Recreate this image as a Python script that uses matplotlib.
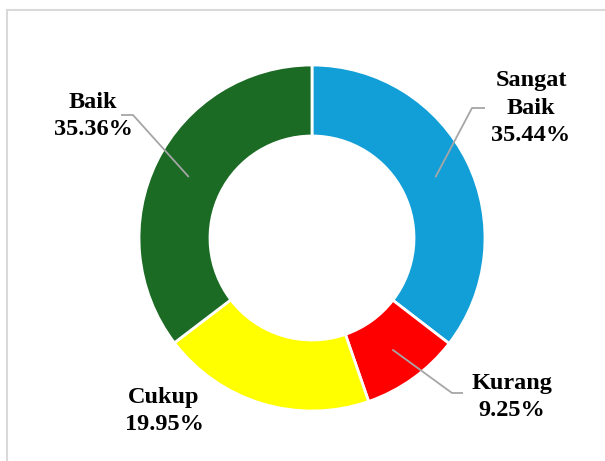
import numpy as np
import matplotlib
matplotlib.use('Agg')
import matplotlib.pyplot as plt

# ── data ─────────────────────────────────────────────
categories = ['Sangat\nBaik', 'Kurang', 'Cukup', 'Baik']
values     = [35.44, 9.25, 19.95, 35.36]
colors     = ['#129FD7', '#FF0000', '#FFFF00', '#1B6B25']

W, H = 605, 461
CX, CY = 312, H - 238          # donut centre (pixel space, y up)
R_OUT, R_IN = 173, 102

plt.rcParams['font.family'] = ['Liberation Serif', 'DejaVu Serif']

fig = plt.figure(figsize=(W / 100, H / 100), dpi=100)
ax = fig.add_axes([0, 0, 1, 1])
ax.set_xlim(0, W)
ax.set_ylim(0, H)
ax.set_aspect('equal')
ax.axis('off')

# thin grey frame (only top/left visible)
ax.plot([7, 7, W + 5], [-5, H - 10, H - 10], color='#d9d9d9', lw=1.5,
        solid_joinstyle='miter')

wedges, _ = ax.pie(values, colors=colors, startangle=90, counterclock=False,
                   center=(CX, CY), radius=R_OUT,
                   wedgeprops=dict(width=R_OUT - R_IN, edgecolor='white', linewidth=2))
ax.set_xlim(0, W)
ax.set_ylim(0, H)

# label layout: text centre, elbow, line end (pixel coords, y down)
labels_pos = {
    'Sangat\nBaik': dict(text=(531, 108), elbow=(472, 108), end=(485, 108)),
    'Kurang':       dict(text=(512, 397), elbow=(452, 393), end=(463, 393)),
    'Cukup':        dict(text=(164, 411), elbow=None, end=None),
    'Baik':         dict(text=(93, 116), elbow=(133, 115), end=(121, 115)),
}

r_mid = (R_OUT + R_IN) / 2
for w, cat, v in zip(wedges, categories, values):
    lp = labels_pos[cat]
    ang = np.deg2rad((w.theta1 + w.theta2) / 2)
    ax_, ay_ = CX + r_mid * np.cos(ang), CY + r_mid * np.sin(ang)
    if lp['elbow'] is not None:
        ex, ey = lp['elbow']
        fx, fy = lp['end']
        ax.plot([ax_, ex, fx], [ay_, H - ey, H - fy], color='#a6a6a6', lw=1.3,
                solid_capstyle='butt')
    tx, ty = lp['text']
    ax.text(tx, H - ty, f'{cat}\n{v:.2f}%', ha='center', va='center',
            fontsize=17.5, fontweight='bold', color='#000000', linespacing=1.4)

fig.savefig('out.png', dpi=100, facecolor='white')
